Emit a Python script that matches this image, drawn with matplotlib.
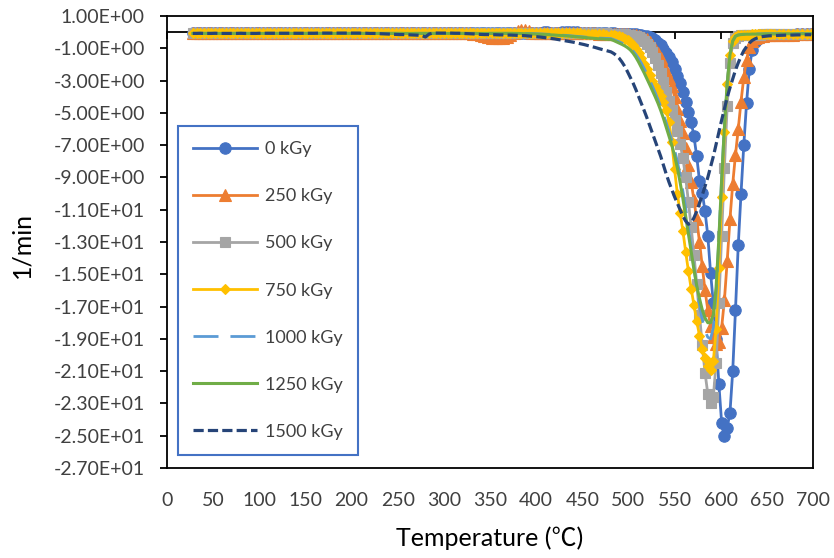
import matplotlib
matplotlib.use("Agg")
import matplotlib.pyplot as plt
from matplotlib.ticker import FixedLocator, FuncFormatter

plt.rcParams["font.family"] = ["Lato", "Noto Sans CJK SC", "DejaVu Sans"]

# Sample temperatures (°C): plateau every 4 °C, decomposition peak every 3 °C, tail every 5 °C
temperature = (list(range(28, 479, 4)) + list(range(481, 659, 3))
               + list(range(663, 699, 5)))

# DTG rate (1/min) for each absorbed dose
rate_0kGy = [
    -0.06, -0.06, -0.06, -0.05, -0.05, -0.05, -0.06, -0.05, -0.05, -0.05,
    -0.05, -0.05, -0.05, -0.04, -0.05, -0.05, -0.05, -0.05, -0.05, -0.05,
    -0.05, -0.05, -0.05, -0.05, -0.05, -0.04, -0.05, -0.05, -0.05, -0.05,
    -0.05, -0.05, -0.05, -0.05, -0.05, -0.05, -0.05, -0.05, -0.04, -0.05,
    -0.05, -0.05, -0.05, -0.05, -0.05, -0.05, -0.05, -0.05, -0.05, -0.05,
    -0.05, -0.05, -0.05, -0.05, -0.05, -0.05, -0.05, -0.05, -0.05, -0.05,
    -0.05, -0.05, -0.05, -0.05, -0.05, -0.05, -0.05, -0.05, -0.05, -0.05,
    -0.05, -0.05, -0.05, -0.05, -0.05, -0.05, -0.05, -0.05, -0.04, -0.04,
    -0.04, -0.04, -0.04, -0.04, -0.04, -0.04, -0.04, -0.04, -0.04, -0.04,
    -0.03, -0.03, -0.03, -0.03, -0.03, -0.02, -0.02, -0.03, -0.03, -0.03,
    -0.02, -0.02, -0.02, -0.02, -0.02, -0.03, -0.03, -0.03, -0.04, -0.04,
    -0.05, -0.06, -0.07,
    -0.08, -0.08, -0.09, -0.10, -0.10, -0.11, -0.12, -0.12, -0.13, -0.14,
    -0.16, -0.18, -0.21, -0.25, -0.31, -0.38, -0.50, -0.65, -0.82, -1.03,
    -1.27, -1.52, -1.85, -2.30, -2.72, -3.15, -3.70, -4.30, -4.92, -5.55,
    -6.45, -7.70, -9.20, -9.95, -11.1, -12.6, -14.9, -16.8, -19.0, -21.8,
    -24.2, -25.0, -24.5, -23.6, -21.0, -17.2, -13.2, -10.0, -7.00, -4.40,
    -2.30, -1.10, -0.60, -0.40, -0.30, -0.25, -0.22, -0.20, -0.19, -0.18,
    -0.17, -0.16, -0.15, -0.15, -0.14, -0.14, -0.13, -0.13,
]

rate_250kGy = [
    -0.06, -0.06, -0.06, -0.05, -0.06, -0.06, -0.06, -0.06, -0.05, -0.06,
    -0.06, -0.06, -0.06, -0.06, -0.06, -0.05, -0.06, -0.06, -0.06, -0.06,
    -0.06, -0.06, -0.06, -0.06, -0.06, -0.06, -0.06, -0.05, -0.06, -0.06,
    -0.06, -0.06, -0.06, -0.06, -0.06, -0.06, -0.06, -0.06, -0.06, -0.06,
    -0.06, -0.06, -0.06, -0.06, -0.06, -0.06, -0.06, -0.06, -0.06, -0.06,
    -0.06, -0.06, -0.06, -0.06, -0.06, -0.06, -0.06, -0.06, -0.06, -0.06,
    -0.06, -0.06, -0.06, -0.06, -0.06, -0.06, -0.06, -0.06, -0.06, -0.06,
    -0.06, -0.06, -0.06, -0.06, -0.07, -0.08, -0.10, -0.14, -0.20, -0.27,
    -0.32, -0.36, -0.37, -0.37, -0.34, -0.28, -0.18, -0.04, 0.08, 0.13,
    0.12, 0.05, -0.03, -0.06, -0.06, -0.06, -0.06, -0.06, -0.07, -0.07,
    -0.07, -0.07, -0.07, -0.07, -0.07, -0.08, -0.08, -0.08, -0.08, -0.08,
    -0.09, -0.09, -0.10,
    -0.10, -0.10, -0.11, -0.12, -0.12, -0.13, -0.14, -0.15, -0.17, -0.20,
    -0.23, -0.28, -0.36, -0.45, -0.58, -0.78, -1.02, -1.30, -1.62, -2.00,
    -2.42, -2.85, -3.35, -4.00, -4.75, -5.50, -6.25, -7.20, -8.25, -9.30,
    -10.4, -11.6, -13.0, -14.5, -16.0, -17.2, -18.2, -18.9, -19.3, -19.2,
    -18.3, -16.6, -14.2, -11.6, -9.40, -7.60, -6.00, -4.30, -2.80, -1.70,
    -0.95, -0.55, -0.38, -0.30, -0.25, -0.22, -0.20, -0.19, -0.18, -0.17,
    -0.16, -0.16, -0.15, -0.15, -0.14, -0.14, -0.13, -0.13,
]

rate_500kGy = [
    -0.06, -0.06, -0.06, -0.06, -0.06, -0.06, -0.06, -0.06, -0.06, -0.06,
    -0.06, -0.06, -0.06, -0.06, -0.06, -0.06, -0.06, -0.06, -0.06, -0.06,
    -0.06, -0.06, -0.06, -0.06, -0.06, -0.06, -0.06, -0.06, -0.06, -0.06,
    -0.06, -0.06, -0.06, -0.06, -0.06, -0.06, -0.06, -0.06, -0.06, -0.06,
    -0.06, -0.06, -0.06, -0.06, -0.06, -0.06, -0.06, -0.06, -0.06, -0.06,
    -0.06, -0.06, -0.06, -0.06, -0.06, -0.06, -0.06, -0.06, -0.06, -0.06,
    -0.06, -0.06, -0.06, -0.06, -0.06, -0.06, -0.06, -0.06, -0.06, -0.06,
    -0.06, -0.06, -0.06, -0.06, -0.06, -0.06, -0.06, -0.06, -0.06, -0.06,
    -0.06, -0.06, -0.06, -0.06, -0.06, -0.06, -0.06, -0.06, -0.06, -0.06,
    -0.06, -0.06, -0.06, -0.06, -0.06, -0.06, -0.06, -0.06, -0.06, -0.06,
    -0.06, -0.06, -0.06, -0.06, -0.06, -0.07, -0.07, -0.07, -0.07, -0.07,
    -0.08, -0.08, -0.08,
    -0.09, -0.09, -0.10, -0.11, -0.12, -0.13, -0.15, -0.17, -0.21, -0.26,
    -0.33, -0.42, -0.55, -0.72, -0.95, -1.25, -1.62, -2.05, -2.55, -3.10,
    -3.70, -4.25, -4.85, -5.45, -6.10, -6.90, -7.80, -9.00, -10.5, -12.1,
    -13.8, -15.6, -17.5, -19.4, -21.1, -22.4, -23.0, -22.6, -20.5, -16.8,
    -12.6, -8.40, -4.60, -1.90, -0.70, -0.35, -0.25, -0.20, -0.18, -0.17,
    -0.16, -0.16, -0.15, -0.15, -0.15, -0.14, -0.14, -0.14, -0.13, -0.13,
    -0.13, -0.12, -0.12, -0.12, -0.11, -0.11, -0.11, -0.10,
]

rate_750kGy = [
    -0.05, -0.05, -0.05, -0.05, -0.05, -0.05, -0.05, -0.05, -0.05, -0.05,
    -0.05, -0.05, -0.05, -0.05, -0.05, -0.05, -0.05, -0.05, -0.05, -0.05,
    -0.05, -0.05, -0.05, -0.05, -0.05, -0.05, -0.05, -0.05, -0.05, -0.05,
    -0.05, -0.05, -0.05, -0.05, -0.05, -0.05, -0.05, -0.05, -0.05, -0.05,
    -0.05, -0.05, -0.05, -0.05, -0.05, -0.05, -0.05, -0.05, -0.05, -0.05,
    -0.05, -0.05, -0.05, -0.05, -0.05, -0.05, -0.05, -0.05, -0.05, -0.05,
    -0.05, -0.05, -0.05, -0.05, -0.05, -0.05, -0.05, -0.05, -0.05, -0.05,
    -0.05, -0.05, -0.05, -0.05, -0.05, -0.05, -0.05, -0.05, -0.05, -0.05,
    -0.05, -0.05, -0.05, -0.05, -0.05, -0.05, -0.05, -0.05, -0.05, -0.05,
    -0.05, -0.05, -0.05, -0.05, -0.05, -0.05, -0.05, -0.05, -0.05, -0.05,
    -0.06, -0.06, -0.07, -0.07, -0.08, -0.08, -0.09, -0.10, -0.11, -0.12,
    -0.13, -0.14, -0.15,
    -0.15, -0.18, -0.22, -0.27, -0.33, -0.41, -0.51, -0.64, -0.82, -1.05,
    -1.32, -1.62, -1.95, -2.30, -2.65, -3.00, -3.35, -3.65, -3.95, -4.35,
    -4.85, -5.55, -6.80, -8.50, -10.0, -11.2, -12.3, -13.6, -14.8, -15.9,
    -16.9, -17.9, -18.8, -19.6, -20.2, -20.7, -20.9, -20.4, -18.4, -14.6,
    -10.2, -6.20, -3.20, -1.40, -0.55, -0.28, -0.20, -0.17, -0.16, -0.15,
    -0.15, -0.14, -0.14, -0.14, -0.13, -0.13, -0.13, -0.12, -0.12, -0.12,
    -0.12, -0.11, -0.11, -0.11, -0.10, -0.10, -0.10, -0.10,
]

rate_1000kGy = [
    -0.07, -0.07, -0.07, -0.07, -0.07, -0.07, -0.07, -0.07, -0.07, -0.07,
    -0.07, -0.07, -0.07, -0.07, -0.07, -0.07, -0.07, -0.07, -0.07, -0.07,
    -0.07, -0.07, -0.07, -0.07, -0.07, -0.07, -0.07, -0.07, -0.07, -0.07,
    -0.07, -0.07, -0.07, -0.07, -0.07, -0.07, -0.07, -0.07, -0.07, -0.07,
    -0.07, -0.07, -0.07, -0.07, -0.07, -0.07, -0.07, -0.07, -0.07, -0.07,
    -0.07, -0.07, -0.07, -0.07, -0.07, -0.07, -0.07, -0.07, -0.07, -0.07,
    -0.07, -0.07, -0.07, -0.07, -0.07, -0.07, -0.07, -0.07, -0.07, -0.07,
    -0.07, -0.07, -0.07, -0.07, -0.07, -0.07, -0.07, -0.07, -0.07, -0.07,
    -0.07, -0.07, -0.07, -0.07, -0.07, -0.07, -0.07, -0.07, -0.08, -0.08,
    -0.08, -0.09, -0.09, -0.10, -0.11, -0.12, -0.13, -0.14, -0.16, -0.17,
    -0.19, -0.20, -0.22, -0.24, -0.26, -0.28, -0.30, -0.32, -0.34, -0.36,
    -0.37, -0.38, -0.39,
    -0.40, -0.46, -0.53, -0.60, -0.68, -0.77, -0.87, -1.00, -1.17, -1.38,
    -1.63, -1.92, -2.25, -2.60, -2.97, -3.35, -3.75, -4.17, -4.62, -5.10,
    -5.62, -6.15, -6.70, -7.30, -8.00, -8.85, -9.85, -10.9, -12.1, -13.3,
    -14.6, -15.8, -16.9, -17.8, -18.5, -18.9, -19.0, -18.3, -16.2, -12.8,
    -9.00, -5.70, -3.10, -1.35, -0.55, -0.25, -0.17, -0.14, -0.13, -0.12,
    -0.12, -0.12, -0.11, -0.11, -0.11, -0.11, -0.10, -0.10, -0.10, -0.10,
    -0.10, -0.10, -0.09, -0.09, -0.09, -0.09, -0.09, -0.09,
]

rate_1250kGy = [
    -0.08, -0.08, -0.08, -0.08, -0.08, -0.08, -0.08, -0.08, -0.08, -0.08,
    -0.08, -0.08, -0.08, -0.08, -0.08, -0.08, -0.08, -0.08, -0.08, -0.08,
    -0.08, -0.08, -0.08, -0.08, -0.08, -0.08, -0.08, -0.08, -0.08, -0.08,
    -0.08, -0.08, -0.08, -0.08, -0.08, -0.08, -0.08, -0.08, -0.08, -0.08,
    -0.08, -0.08, -0.08, -0.08, -0.08, -0.08, -0.08, -0.08, -0.08, -0.08,
    -0.08, -0.08, -0.08, -0.08, -0.08, -0.08, -0.08, -0.08, -0.08, -0.08,
    -0.08, -0.08, -0.08, -0.08, -0.08, -0.08, -0.08, -0.08, -0.08, -0.08,
    -0.08, -0.08, -0.08, -0.08, -0.08, -0.08, -0.08, -0.08, -0.08, -0.08,
    -0.08, -0.08, -0.08, -0.08, -0.08, -0.08, -0.08, -0.08, -0.08, -0.09,
    -0.10, -0.10, -0.11, -0.12, -0.13, -0.14, -0.15, -0.17, -0.18, -0.20,
    -0.21, -0.23, -0.25, -0.27, -0.29, -0.31, -0.33, -0.35, -0.37, -0.39,
    -0.41, -0.42, -0.44,
    -0.45, -0.52, -0.60, -0.68, -0.76, -0.85, -0.96, -1.10, -1.30, -1.55,
    -1.85, -2.18, -2.52, -2.88, -3.25, -3.62, -4.00, -4.40, -4.85, -5.35,
    -5.90, -6.45, -7.00, -7.65, -8.40, -9.30, -10.3, -11.4, -12.5, -13.6,
    -14.7, -15.7, -16.5, -17.2, -17.7, -18.0, -18.0, -17.5, -15.8, -12.8,
    -9.20, -5.90, -3.20, -1.40, -0.55, -0.25, -0.18, -0.15, -0.14, -0.13,
    -0.13, -0.12, -0.12, -0.12, -0.12, -0.11, -0.11, -0.11, -0.11, -0.11,
    -0.11, -0.10, -0.10, -0.10, -0.10, -0.10, -0.10, -0.10,
]

rate_1500kGy = [
    -0.08, -0.08, -0.07, -0.08, -0.08, -0.08, -0.07, -0.08, -0.08, -0.08,
    -0.08, -0.08, -0.08, -0.07, -0.08, -0.08, -0.08, -0.08, -0.07, -0.07,
    -0.07, -0.07, -0.07, -0.07, -0.07, -0.07, -0.07, -0.07, -0.07, -0.07,
    -0.07, -0.07, -0.07, -0.07, -0.06, -0.06, -0.06, -0.06, -0.06, -0.06,
    -0.06, -0.06, -0.06, -0.06, -0.06, -0.06, -0.07, -0.07, -0.08, -0.08,
    -0.09, -0.10, -0.11, -0.12, -0.13, -0.14, -0.15, -0.15, -0.16, -0.17,
    -0.18, -0.19, -0.21, -0.30, -0.12, -0.06, -0.06, -0.06, -0.06, -0.06,
    -0.06, -0.07, -0.07, -0.08, -0.09, -0.10, -0.11, -0.13, -0.14, -0.15,
    -0.15, -0.16, -0.16, -0.17, -0.17, -0.18, -0.18, -0.19, -0.20, -0.21,
    -0.22, -0.24, -0.26, -0.28, -0.30, -0.33, -0.36, -0.39, -0.42, -0.46,
    -0.50, -0.54, -0.58, -0.62, -0.67, -0.72, -0.77, -0.83, -0.89, -0.95,
    -1.02, -1.08, -1.14,
    -1.22, -1.32, -1.45, -1.62, -1.85, -2.12, -2.45, -2.80, -3.15, -3.55,
    -3.98, -4.42, -4.85, -5.30, -5.78, -6.25, -6.72, -7.20, -7.70, -8.25,
    -8.80, -9.30, -9.75, -10.2, -10.6, -11.0, -11.4, -11.7, -11.9, -11.8,
    -11.5, -11.1, -10.6, -10.1, -9.55, -9.00, -8.35, -7.70, -6.95, -6.20,
    -5.45, -4.75, -4.05, -3.45, -2.90, -2.35, -1.90, -1.50, -1.15, -0.90,
    -0.68, -0.52, -0.42, -0.35, -0.30, -0.27, -0.25, -0.23, -0.22, -0.21,
    -0.20, -0.19, -0.18, -0.18, -0.17, -0.17, -0.16, -0.16,
]

dose_labels = ["0 kGy", "250 kGy", "500 kGy", "750 kGy",
               "1000 kGy", "1250 kGy", "1500 kGy"]
series = [rate_0kGy, rate_250kGy, rate_500kGy, rate_750kGy,
          rate_1000kGy, rate_1250kGy, rate_1500kGy]

x_ticks = list(range(0, 701, 50))
y_ticks = list(range(-27, 2, 2))
x_min, x_max = 0, 700
y_min, y_max = -27, 1

styles = [
    dict(color="#4472C4", marker="o", markersize=8.2, lw=2.0),
    dict(color="#ED7D31", marker="^", markersize=8.5, lw=2.0),
    dict(color="#A5A5A5", marker="s", markersize=7.0, lw=2.0),
    dict(color="#FFC000", marker="D", markersize=5.6, lw=2.0),
    dict(color="#5B9BD5", linestyle=(0, (9, 4.3)), lw=2.0),
    dict(color="#70AD47", lw=2.2),
    dict(color="#264478", linestyle=(0, (3.2, 1.3)), lw=2.3),
]

fig = plt.figure(figsize=(8.34, 5.58), dpi=100)
ax = fig.add_axes([0.20024, 0.16129, 0.77458, 0.81004])

for label, values, st in zip(dose_labels, series, styles):
    st = dict(st)
    if "marker" in st:
        st["markeredgecolor"] = st["color"]
        st["markerfacecolor"] = st["color"]
        st["markeredgewidth"] = 0.8
    ax.plot(temperature, values, label=label, **st)

ax.set_xlim(x_min, x_max)
ax.set_ylim(y_min, y_max)

tick_color = "#404040"
ax.xaxis.set_major_locator(FixedLocator(x_ticks))
ax.yaxis.set_major_locator(FixedLocator(y_ticks))
ax.yaxis.set_major_formatter(FuncFormatter(lambda v, _: f"{v:.2E}"))
ax.tick_params(axis="x", length=0, pad=17, labelsize=14, labelcolor=tick_color)
ax.tick_params(axis="y", direction="out", length=5, width=1.3, pad=11,
               labelsize=14, labelcolor=tick_color)

for sp in ax.spines.values():
    sp.set_color("black")
    sp.set_linewidth(1.3)

# Category axis crossing at zero, ticks hanging below it
zero_pos = (0 - y_min) / (y_max - y_min)
sec = ax.secondary_xaxis(zero_pos)
sec.xaxis.set_major_locator(FixedLocator(x_ticks))
sec.tick_params(axis="x", direction="in", length=5, width=1.3,
                labeltop=False, labelbottom=False)
for sp in sec.spines.values():
    sp.set_color("black")
    sp.set_linewidth(1.3)

ax.set_xlabel("Temperature (℃)", fontsize=18, color="black")
ax.xaxis.set_label_coords(0.5, -0.155)
ax.xaxis.label.set_va("center")
ax.set_ylabel("1/min", fontsize=18, color="black")
ax.yaxis.set_label_coords(-0.2245, 0.493)
ax.yaxis.label.set_va("center")

leg = ax.legend(loc="upper left", bbox_to_anchor=(0.017, 0.7566),
                frameon=True, fancybox=False, edgecolor="#4472C4",
                framealpha=1, borderpad=0.85, handlelength=3.55,
                handletextpad=0.4, labelspacing=1.72, borderaxespad=0,
                fontsize=13, labelcolor=tick_color)
leg.get_frame().set_linewidth(1.5)

fig.savefig("out.png", dpi=100)
